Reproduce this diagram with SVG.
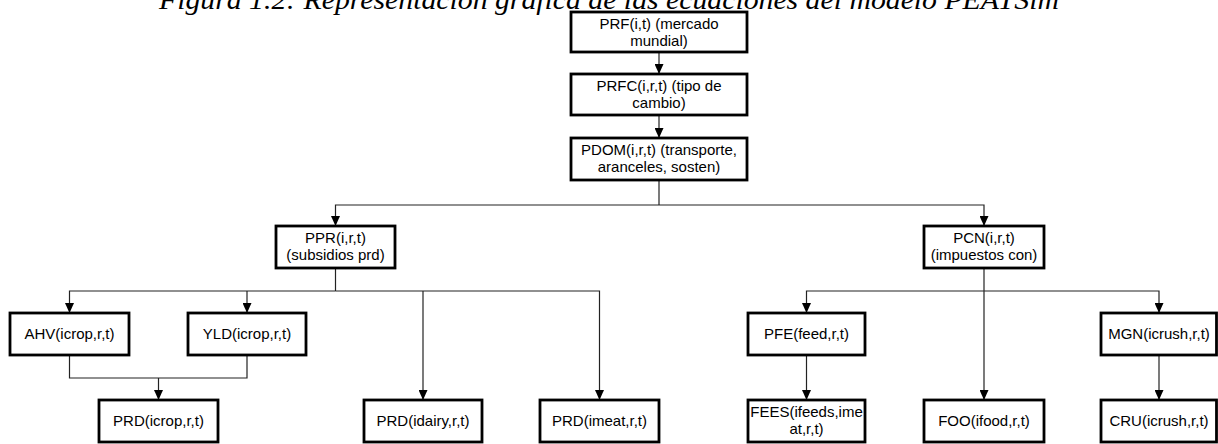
<svg xmlns="http://www.w3.org/2000/svg" width="1218" height="444" viewBox="0 0 1218 444">
  <defs>
    <marker id="arrow" viewBox="0 0 10 10" refX="10" refY="5" markerWidth="10" markerHeight="9" markerUnits="userSpaceOnUse" orient="auto" preserveAspectRatio="none">
      <path d="M0,0 L10,5 L0,10 Z" fill="#000"/>
    </marker>
    <style>
      .box { fill: #fff; stroke: #000; stroke-width: 2.8; }
      .lbl { font-family: "Liberation Sans", Arial, sans-serif; font-size: 15px; fill: #000; text-anchor: middle; }
      .wire { fill: none; stroke: #222; stroke-width: 1.2; }
      .arr { fill: none; stroke: #222; stroke-width: 1.2; marker-end: url(#arrow); }
      .title { font-family: "Liberation Serif", "Times New Roman", serif; font-style: italic; font-size: 28px; fill: #000; text-anchor: middle; }
    </style>
  </defs>

  <rect width="1218" height="444" fill="#fff"/>

  <!-- caption, cut by the top edge -->
  <text class="title" x="609" y="9" textLength="900" lengthAdjust="spacingAndGlyphs">Figura 1.2: Representación gráfica de las ecuaciones del modelo PEATSim</text>

  <!-- connectors -->
  <g id="connectors">
    <line class="arr" x1="659" y1="52" x2="659" y2="74"/>
    <line class="arr" x1="659" y1="115" x2="659" y2="138"/>
    <line class="wire" x1="659" y1="180" x2="659" y2="205"/>
    <polyline class="arr" points="659,205 335.5,205 335.5,226"/>
    <polyline class="arr" points="659,205 984,205 984,226"/>

    <line class="wire" x1="335.5" y1="268" x2="335.5" y2="291"/>
    <polyline class="arr" points="335.5,291 69.5,291 69.5,313"/>
    <line class="arr" x1="247" y1="291" x2="247" y2="313"/>
    <line class="arr" x1="423" y1="291" x2="423" y2="400"/>
    <polyline class="arr" points="335.5,291 599.5,291 599.5,400"/>
    <path class="wire" d="M69.5,355 V378 H247 V355"/>
    <line class="arr" x1="158.5" y1="378" x2="158.5" y2="400"/>

    <line class="arr" x1="984" y1="268" x2="984" y2="400"/>
    <polyline class="arr" points="984,291 806.5,291 806.5,313"/>
    <polyline class="arr" points="984,291 1159,291 1159,313"/>
    <line class="arr" x1="806.5" y1="355" x2="806.5" y2="400"/>
    <line class="arr" x1="1159" y1="355" x2="1159" y2="400"/>
  </g>

  <g id="prf">
    <rect class="box" x="571" y="12" width="176" height="40"/>
    <text class="lbl" x="659" y="29">PRF(i,t) (mercado</text>
    <text class="lbl" x="659" y="46">mundial)</text>
  </g>
  <g id="prfc">
    <rect class="box" x="571" y="74" width="176" height="41"/>
    <text class="lbl" x="659" y="91">PRFC(i,r,t) (tipo de</text>
    <text class="lbl" x="659" y="108">cambio)</text>
  </g>
  <g id="pdom">
    <rect class="box" x="571" y="138" width="176" height="42"/>
    <text class="lbl" x="659" y="155">PDOM(i,r,t) (transporte,</text>
    <text class="lbl" x="659" y="172">aranceles, sosten)</text>
  </g>

  <g id="ppr">
    <rect class="box" x="276" y="226" width="119" height="42"/>
    <text class="lbl" x="335.5" y="243">PPR(i,r,t)</text>
    <text class="lbl" x="335.5" y="260">(subsidios prd)</text>
  </g>
  <g id="pcn">
    <rect class="box" x="924" y="226" width="120" height="42"/>
    <text class="lbl" x="984" y="243">PCN(i,r,t)</text>
    <text class="lbl" x="984" y="260">(impuestos con)</text>
  </g>

  <g id="ahv">
    <rect class="box" x="10" y="313" width="119" height="42"/>
    <text class="lbl" x="69.5" y="339">AHV(icrop,r,t)</text>
  </g>
  <g id="yld">
    <rect class="box" x="188" y="313" width="118" height="42"/>
    <text class="lbl" x="247" y="339">YLD(icrop,r,t)</text>
  </g>
  <g id="pfe">
    <rect class="box" x="748" y="313" width="117" height="42"/>
    <text class="lbl" x="806.5" y="339">PFE(feed,r,t)</text>
  </g>
  <g id="mgn">
    <rect class="box" x="1101" y="313" width="115.5" height="42"/>
    <text class="lbl" x="1159" y="339">MGN(icrush,r,t)</text>
  </g>

  <g id="prd-icrop">
    <rect class="box" x="99" y="400" width="119" height="42"/>
    <text class="lbl" x="158.5" y="426">PRD(icrop,r,t)</text>
  </g>
  <g id="prd-idairy">
    <rect class="box" x="364" y="400" width="118" height="42"/>
    <text class="lbl" x="423" y="426">PRD(idairy,r,t)</text>
  </g>
  <g id="prd-imeat">
    <rect class="box" x="540" y="400" width="119" height="42"/>
    <text class="lbl" x="599.5" y="426">PRD(imeat,r,t)</text>
  </g>
  <g id="fees">
    <rect class="box" x="748" y="400" width="117" height="42"/>
    <text class="lbl" x="806.5" y="417">FEES(ifeeds,ime</text>
    <text class="lbl" x="806.5" y="434">at,r,t)</text>
  </g>
  <g id="foo">
    <rect class="box" x="924" y="400" width="120" height="42"/>
    <text class="lbl" x="984" y="426">FOO(ifood,r,t)</text>
  </g>
  <g id="cru">
    <rect class="box" x="1101" y="400" width="115.5" height="42"/>
    <text class="lbl" x="1159" y="426">CRU(icrush,r,t)</text>
  </g>
</svg>
